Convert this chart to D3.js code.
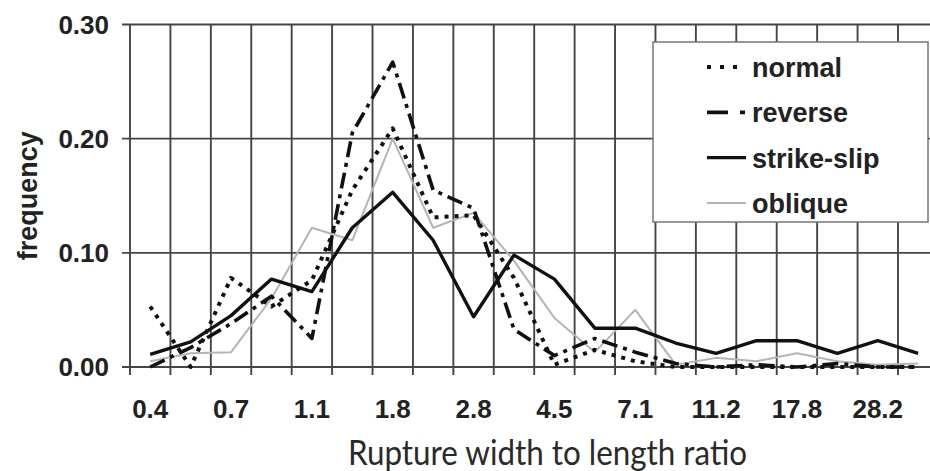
<!DOCTYPE html>
<html>
<head>
<meta charset="utf-8">
<script src="https://cdn.jsdelivr.net/npm/d3@7"></script>
<style>
  html, body { margin: 0; padding: 0; background: #fff; }
  svg { display: block; }
</style>
</head>
<body>
<svg id="chart" width="930" height="471"></svg>
<script>
// ---- data ----
const categories = ["0.4","0.6","0.7","0.9","1.1","1.4","1.8","2.2","2.8","3.5","4.5","5.6","7.1","8.9","11.2","14.1","17.8","22.4","28.2","35.5"];
const normal     = [0.053,0.000,0.078,0.053,0.076,0.155,0.209,0.131,0.133,0.078,0.002,0.015,0.005,0.000,0.000,0.000,0.000,0.000,0.000,0.000];
const reverse    = [0.000,0.017,0.038,0.062,0.025,0.205,0.267,0.155,0.139,0.033,0.010,0.025,0.013,0.003,0.000,0.002,0.000,0.003,0.000,0.000];
const strikeSlip = [0.011,0.022,0.045,0.077,0.066,0.122,0.153,0.111,0.044,0.098,0.077,0.034,0.034,0.021,0.012,0.023,0.023,0.012,0.023,0.012];
const oblique    = [0.005,0.012,0.013,0.060,0.122,0.111,0.200,0.122,0.135,0.093,0.043,0.013,0.050,0.002,0.008,0.005,0.012,0.005,0.002,0.003];
const yTicks = [0, 0.1, 0.2, 0.3];
const seriesNames = ["normal", "reverse", "strike-slip", "oblique"];

// ---- layout ----
const svg = d3.select("#chart");
const plotLeft = 130, bandW = 40.42, plotRight = 930;
const x = d3.scaleBand().domain(categories).range([plotLeft, plotLeft + bandW * categories.length]).padding(0);
const y = d3.scaleLinear().domain([0, 0.3]).range([367, 24.5]);
const cx = c => x(c) + x.bandwidth() / 2;

const styles = {
  "normal":      { stroke: "#111", width: 4,   dash: "4,6" },
  "reverse":     { stroke: "#111", width: 3.6, dash: "16,6,4,6" },
  "strike-slip": { stroke: "#111", width: 3.4, dash: null },
  "oblique":     { stroke: "#b4b4b4", width: 2, dash: null }
};
const seriesData = { "normal": normal, "reverse": reverse, "strike-slip": strikeSlip, "oblique": oblique };

const gridColor = "#454545";
const grid = svg.append("g");
// horizontal gridlines (with outside tick on the left)
grid.selectAll("line.h").data(yTicks).join("line")
  .attr("x1", plotLeft - 8).attr("x2", plotRight)
  .attr("y1", d => y(d)).attr("y2", d => y(d))
  .attr("stroke", gridColor).attr("stroke-width", 1.9);
// vertical gridlines at category boundaries (with outside tick below)
grid.selectAll("line.v").data(categories).join("line")
  .attr("x1", d => x(d)).attr("x2", d => x(d))
  .attr("y1", y(0.3)).attr("y2", y(0) + 8)
  .attr("stroke", gridColor).attr("stroke-width", 1.9);

// y tick labels
svg.append("g").selectAll("text").data(yTicks).join("text")
  .attr("x", 109).attr("y", d => y(d) + 9)
  .attr("text-anchor", "end")
  .attr("font-family", "Liberation Sans, Arial, sans-serif")
  .attr("font-weight", "bold").attr("font-size", 26).attr("fill", "#222")
  .text(d => d3.format(".2f")(d));

// x tick labels (every other category)
svg.append("g").selectAll("text").data(categories.filter((c, i) => i % 2 === 0)).join("text")
  .attr("x", d => cx(d)).attr("y", 418)
  .attr("text-anchor", "middle")
  .attr("font-family", "Liberation Sans, Arial, sans-serif")
  .attr("font-weight", "bold").attr("font-size", 26).attr("fill", "#222")
  .text(d => d);

// y title
svg.append("text")
  .attr("transform", `translate(37,${(y(0) + y(0.3)) / 2}) rotate(-90)`)
  .attr("text-anchor", "middle")
  .attr("font-family", "Liberation Sans, Arial, sans-serif")
  .attr("font-weight", "bold").attr("font-size", 27).attr("fill", "#222")
  .text("frequency");

// x title
svg.append("text")
  .attr("x", 348).attr("y", 465)
  .attr("textLength", 399).attr("lengthAdjust", "spacingAndGlyphs")
  .attr("font-family", "Lato, 'Open Sans', sans-serif")
  .attr("font-weight", 400).attr("font-size", 35).attr("fill", "#2a2a2a")
  .text("Rupture width to length ratio");

// series lines
const line = d3.line().x((d, i) => cx(categories[i])).y(d => y(d));
const drawOrder = ["oblique", "strike-slip", "reverse", "normal"];
svg.append("g").selectAll("path").data(drawOrder).join("path")
  .attr("d", k => line(seriesData[k]))
  .attr("fill", "none")
  .attr("stroke", k => styles[k].stroke)
  .attr("stroke-width", k => styles[k].width)
  .attr("stroke-dasharray", k => styles[k].dash)
  .attr("stroke-linejoin", "round");

// legend
const lg = svg.append("g");
lg.append("rect").attr("x", 653).attr("y", 42).attr("width", 275).attr("height", 180)
  .attr("fill", "#fff").attr("stroke", "#777").attr("stroke-width", 1.5);
const rowY = d3.scalePoint().domain(seriesNames).range([67, 203]);
const items = lg.selectAll("g.item").data(seriesNames).join("g");
items.append("line")
  .attr("x1", 707).attr("x2", 746)
  .attr("y1", d => rowY(d)).attr("y2", d => rowY(d))
  .attr("stroke", d => styles[d].stroke)
  .attr("stroke-width", d => styles[d].width)
  .attr("stroke-dasharray", d => d === "normal" ? "4,9" : d === "reverse" ? "21,12,5,20" : null);
items.append("text")
  .attr("x", 752).attr("y", d => rowY(d) + 10)
  .attr("font-family", "Liberation Sans, Arial, sans-serif")
  .attr("font-weight", "bold").attr("font-size", 27).attr("fill", "#222")
  .text(d => d);
</script>
</body>
</html>
